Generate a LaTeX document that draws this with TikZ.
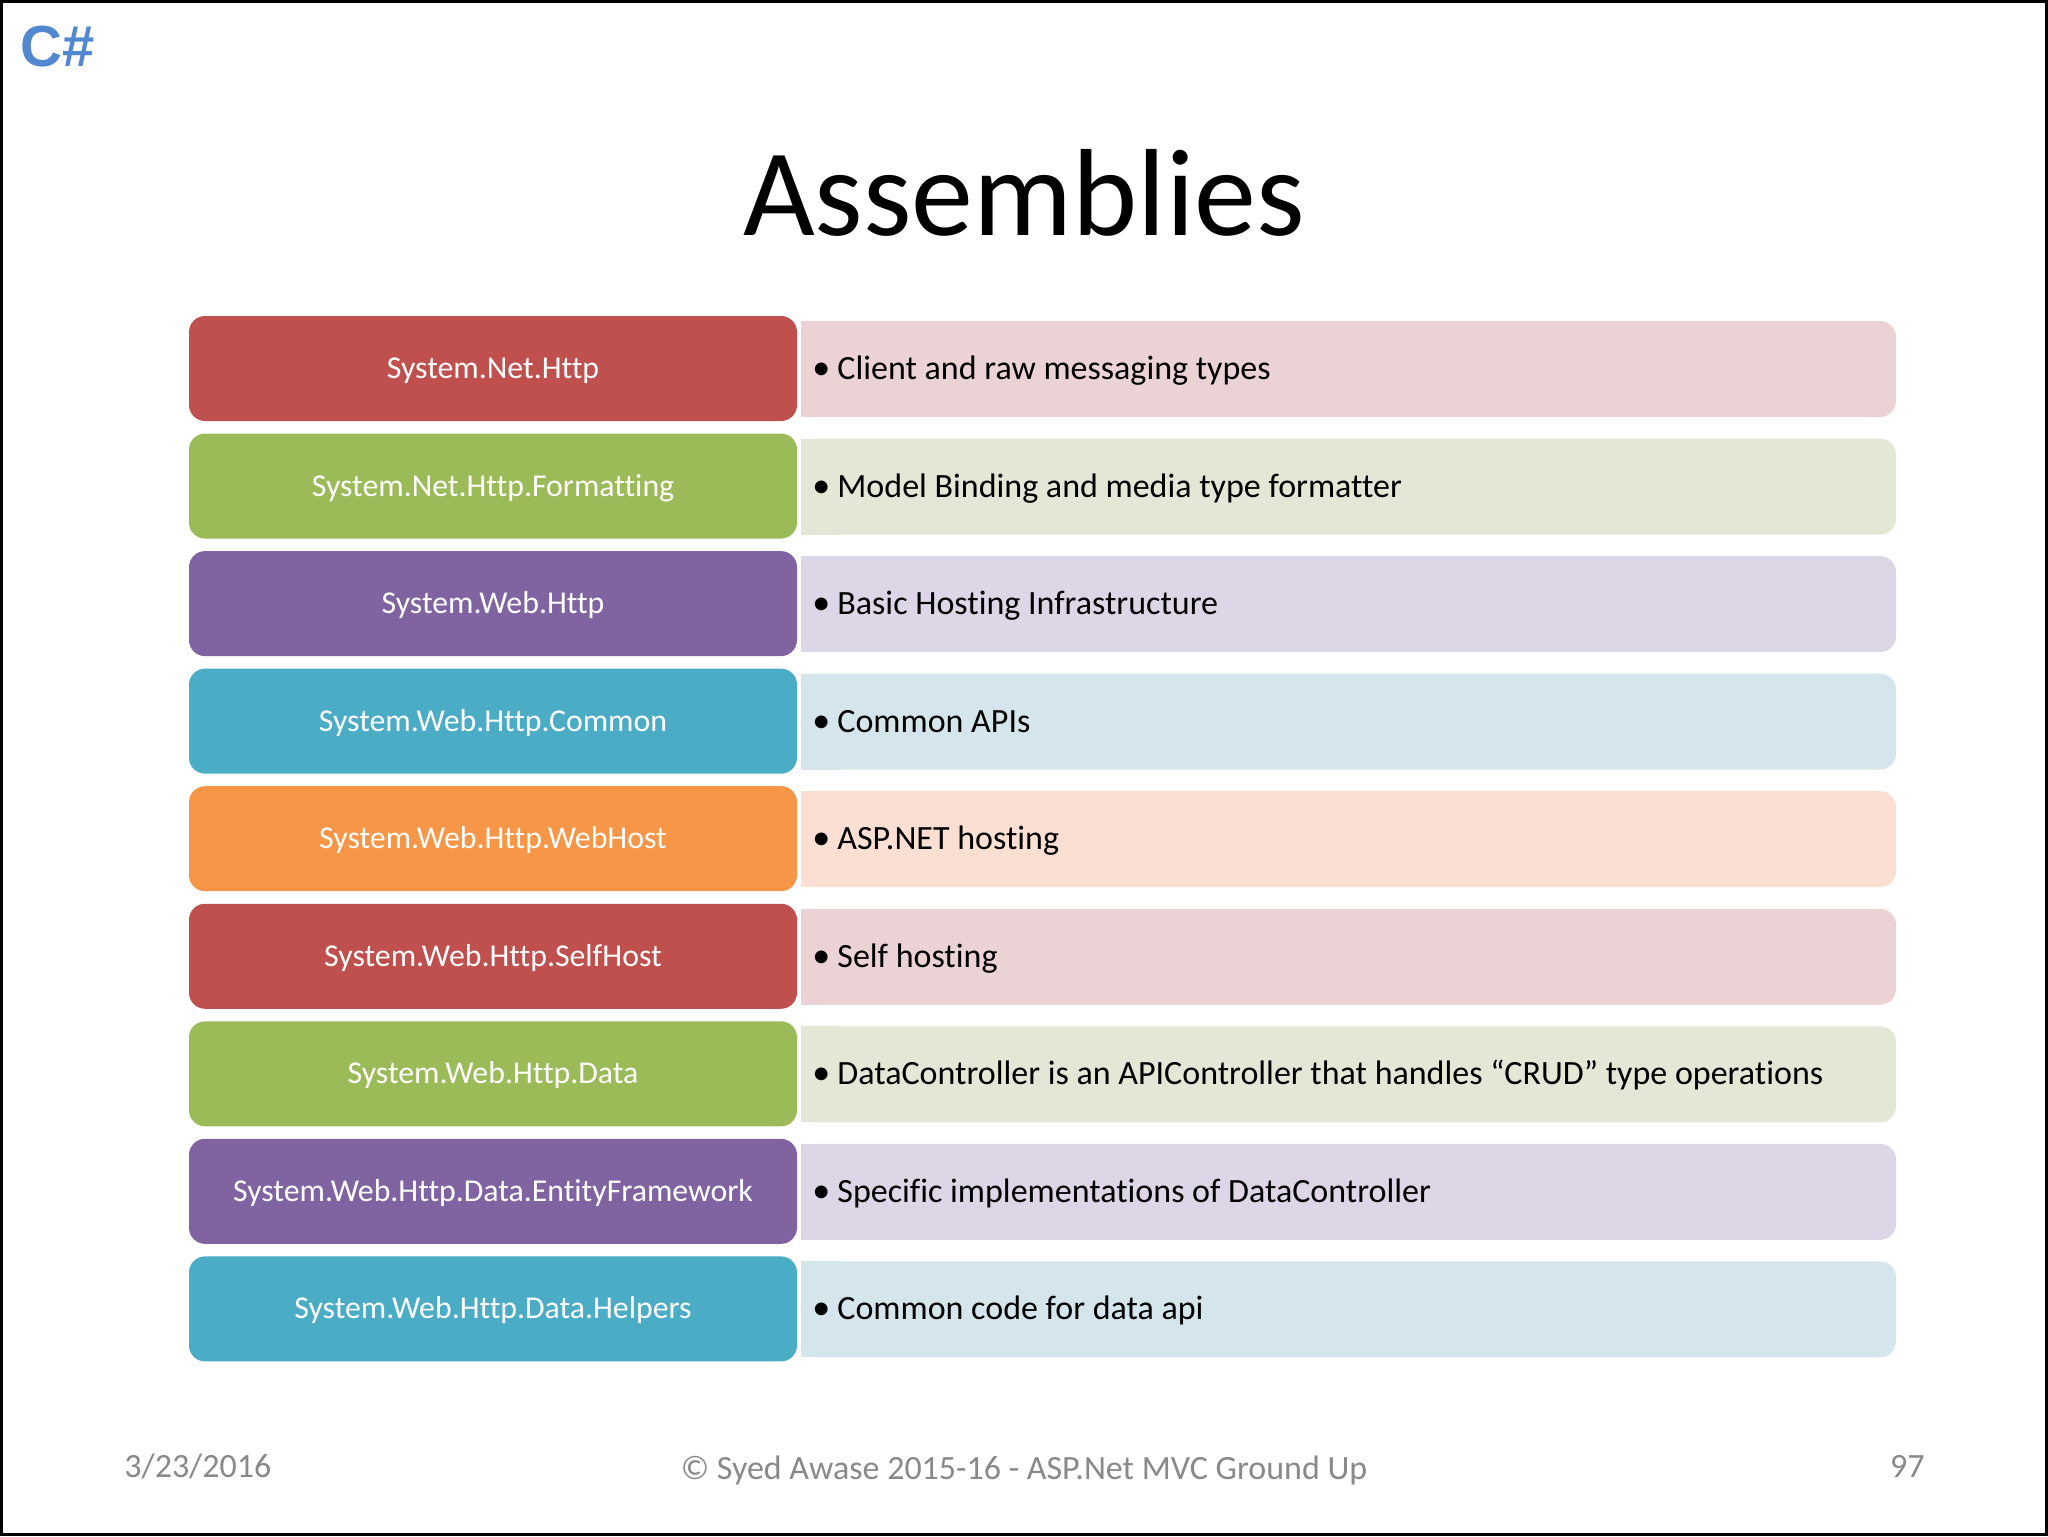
\documentclass[tikz,border=0pt]{standalone}
\usepackage{fontspec}
\setmainfont{Carlito}[Ligatures={NoCommon}]
\newfontfamily\csfont{Liberation Sans}
\definecolor{cred}{HTML}{C0504D}
\definecolor{lred}{HTML}{EBD3D5}
\definecolor{cgreen}{HTML}{9BBB59}
\definecolor{lgreen}{HTML}{E2E7D6}
\definecolor{cpurple}{HTML}{8064A2}
\definecolor{lpurple}{HTML}{DCD6E6}
\definecolor{cblue}{HTML}{4BACC6}
\definecolor{lblue}{HTML}{D4E6EC}
\definecolor{corange}{HTML}{F79646}
\definecolor{lorange}{HTML}{FCDFD3}
\definecolor{csblue}{RGB}{82,136,208}
\definecolor{footgray}{HTML}{898989}
\tikzset{
  leftbox/.style={rectangle, rounded corners=8pt, minimum width=304pt, minimum height=52.5pt,
    inner sep=0pt, text=white, font=\fontsize{15.9pt}{18pt}\selectfont, text height=10pt, text depth=0pt},
  desctext/.style={inner sep=0pt, anchor=west, font=\fontsize{17pt}{20pt}\selectfont, text height=11pt, text depth=0pt},
  bulletmark/.style={inner sep=0pt, anchor=west, font=\fontsize{18pt}{20pt}\selectfont, text height=11pt, text depth=0pt},
  footer/.style={inner sep=0pt, text=footgray, font=\fontsize{17pt}{20pt}\selectfont}
}
\begin{document}
\begin{tikzpicture}[x=0.5pt,y=-0.5pt]
\useasboundingbox (0,0) rectangle (2048,1536);
\fill[white] (0,0) rectangle (2048,1536);
\draw[line width=1.6pt] (1.6,1.6) rectangle (2046.4,1534.4);
\node[inner sep=0pt, anchor=base west, text=csblue, font=\csfont\bfseries\fontsize{29pt}{34pt}\selectfont] (cs) at (20,67) {C\#};
\node[inner sep=0pt, anchor=base, font=\fontsize{62pt}{70pt}\selectfont] (title) at (1024,235) {Assemblies};
\foreach \i/\dk/\lt/\lab/\desc in {
1/cred/lred/System.Net.Http/Client and raw messaging types,
2/cgreen/lgreen/System.Net.Http.Formatting/Model Binding and media type formatter,
3/cpurple/lpurple/System.Web.Http/Basic Hosting Infrastructure,
4/cblue/lblue/System.Web.Http.Common/Common APIs,
5/corange/lorange/System.Web.Http.WebHost/ASP.NET hosting,
6/cred/lred/System.Web.Http.SelfHost/Self hosting,
7/cgreen/lgreen/System.Web.Http.Data/DataController is an APIController that handles “CRUD” type operations,
8/cpurple/lpurple/System.Web.Http.Data.EntityFramework/Specific implementations of DataController,
9/cblue/lblue/System.Web.Http.Data.Helpers/Common code for data api}
{
  \pgfmathsetmacro\tp{316+117.55*(\i-1)}
  \pgfmathsetmacro\bt{\tp+105}
  \pgfmathsetmacro\md{\tp+52.5}
  \fill[\lt, rounded corners=8pt] (801,\tp+5) rectangle (1896,\bt-4);
  \fill[\lt] (801,\tp+5) rectangle (840,\bt-4);
  \node[leftbox, fill=\dk] (l\i) at (493,\md) {\lab};
  \node[bulletmark] (b\i) at (812,\md) {•};
  \node[desctext] (t\i) at (837,\md) {\desc};
}
\node[footer, anchor=base west] (date) at (124,1477) {3/23/2016};
\node[footer, anchor=base] (copy) at (1024,1479) {© Syed Awase 2015-16 - ASP.Net MVC Ground Up};
\node[footer, anchor=base east] (page) at (1925,1477) {97};
\end{tikzpicture}
\end{document}
